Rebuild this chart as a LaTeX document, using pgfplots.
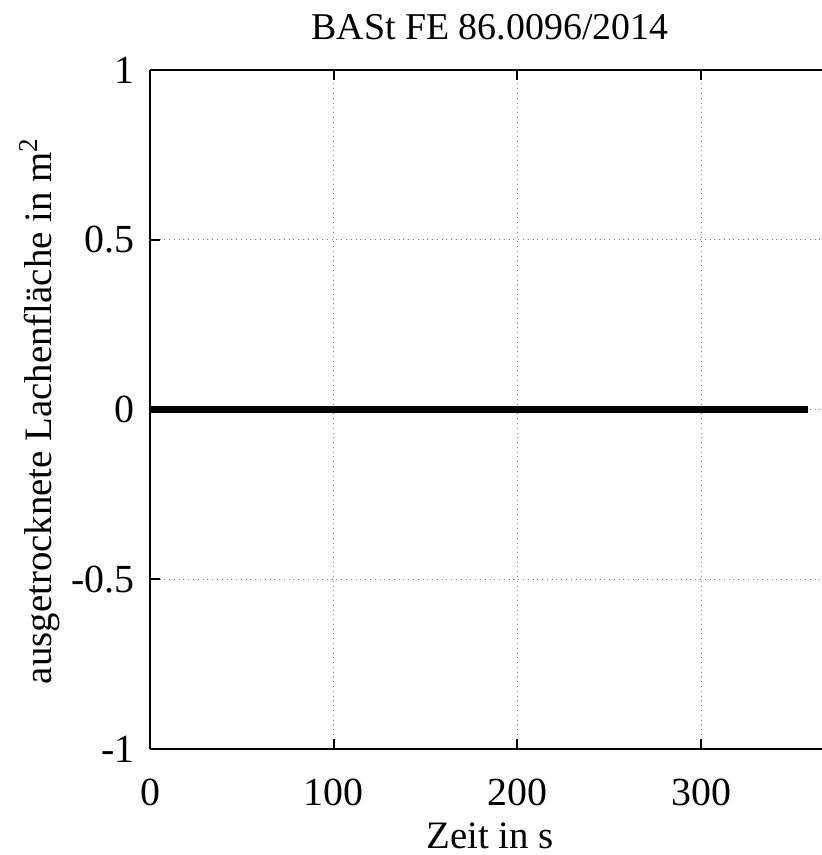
\documentclass[border=0pt]{standalone}
\usepackage{pgfplots}
\pgfplotsset{compat=1.18}
\usepackage{fontspec}
\setmainfont{Liberation Serif}
\begin{document}
\begin{tikzpicture}
\useasboundingbox (-75bp,-53bp) rectangle (336bp,374.5bp);
\begin{axis}[at={(0,0)}, anchor=south west, scale only axis,
  width=336bp, height=339.5bp,
  xmin=0, xmax=365.8, ymin=-1, ymax=1,
  axis x line=box, axis y line=left,
  axis line style={-, line width=1bp, black},
  tick align=inside, major tick length=5bp,
  tick style={line width=1bp, black},
  xtick={0,100,200,300}, xticklabels={0,100,200,300},
  ytick={-1,-0.5,0,0.5,1}, yticklabels={-1,-0.5,0,0.5,1},
  grid=major, grid style={dotted, gray, line width=0.6bp},
  ticklabel style={font=\fontsize{20}{24}\selectfont, inner sep=0pt},
  xticklabel style={anchor=base, yshift=-28bp},
  yticklabel style={anchor=east, xshift=-7.5bp},
  clip=false]
\addplot[black, line width=3.5bp] coordinates {(0,0) (100,0) (200,0) (300,0) (358,0)};
\end{axis}
\node[anchor=base, font=\fontsize{19}{23}\selectfont] at (170bp,354.5bp) {BASt FE 86.0096/2014};
\node[anchor=base, font=\fontsize{19.5}{23}\selectfont] at (170bp,-49.5bp) {Zeit in s};
\node[anchor=base, rotate=90, font=\fontsize{19.5}{23}\selectfont] at (-49bp,169bp) {ausgetrocknete Lachenfläche in m\textsuperscript{2}};
\end{tikzpicture}
\end{document}
